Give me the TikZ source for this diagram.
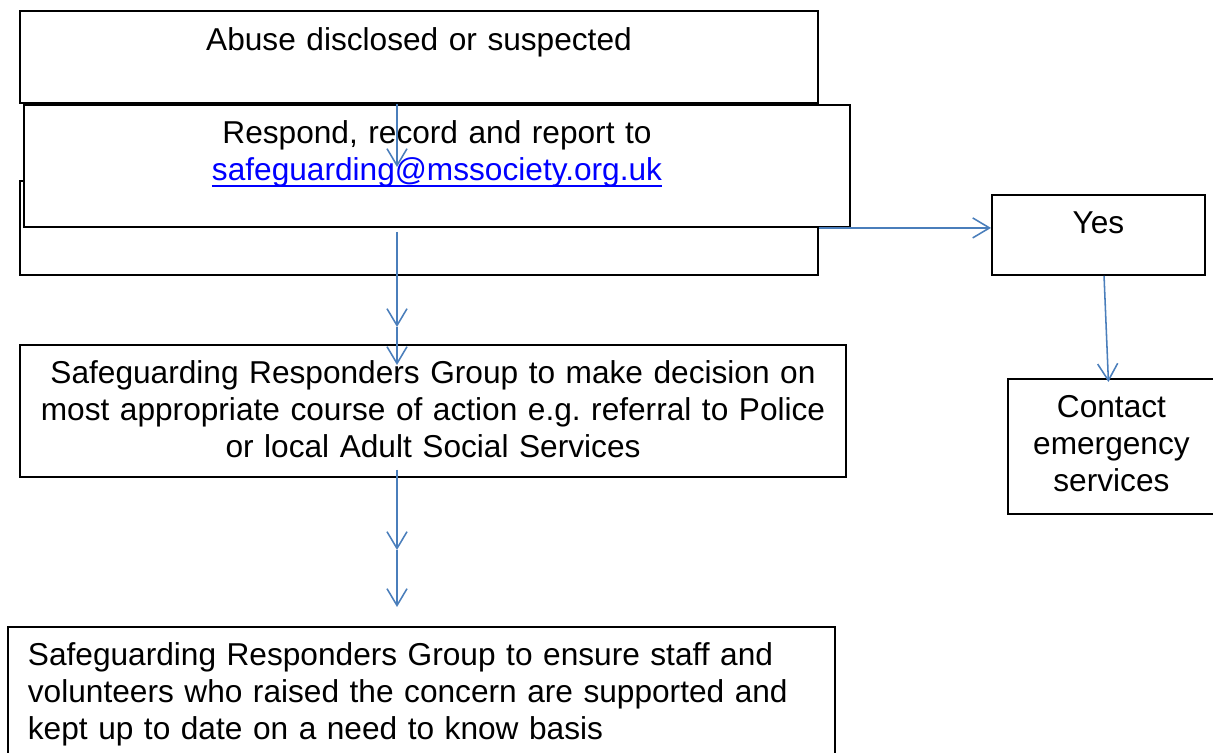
\documentclass[tikz,border=0pt]{standalone}
\usepackage{fontspec}
\setmainfont{Liberation Sans}
\usepackage{tikz}
\usetikzlibrary{arrows.meta}
\definecolor{flowblue}{HTML}{4A7EBB}
\definecolor{linkblue}{HTML}{0000FF}
\frenchspacing
\newsavebox{\mailbox}
\newcommand{\emaillink}[1]{\leavevmode{\color{linkblue}\sbox{\mailbox}{#1}\rlap{\rule[-0.18em]{\wd\mailbox}{0.065em}}\usebox{\mailbox}}}

\begin{document}
\begin{tikzpicture}[x=0.025cm,y=-0.025cm,
    box/.style={draw,line width=1.3pt,fill=white,inner sep=0pt,align=center,
        font=\fontsize{22.5pt}{26.3pt}\selectfont,anchor=north west},
    flow/.style={flowblue,line width=1.1pt,-{Straight Barb[length=0.42cm,width=0.5cm]}}]
    \useasboundingbox (0,0) rectangle (1213,753);
    \clip (0,0) rectangle (1213,753);
    \node[box,text width=19.95cm,text height=1cm,text depth=1.3cm] at(19,10)(abuse){Abuse disclosed or suspected};
    \node[box,minimum width=19.95cm,minimum height=2.35cm] at(19,180)(blank){};
    \node[box,text width=20.65cm,text height=0.975cm,text depth=2.075cm] at(23,104)(report){Respond, record and report to\\\emaillink{safeguarding@mssociety.org.uk}};
    \node[box,text width=20.65cm,text height=0.975cm,text depth=2.325cm] at(19,344)(decide){Safeguarding Responders Group to make decision on\\most appropriate course of action e.g. referral to Police\\or local Adult Social Services};
    \node[box,align=left,inner xsep=0.5cm,text width=19.675cm,text height=0.975cm,text depth=2.875cm] at(7,626)(support){Safeguarding Responders Group to ensure staff and\\volunteers who raised the concern are supported and\\kept up to date on a need to know basis};
    \node[box,text width=5.325cm,text height=0.975cm,text depth=1.025cm] at(991,194)(yes){Yes};
    \node[box,text width=5.175cm,text height=0.975cm,text depth=2.4cm] at(1007,378)(contact){Contact\\emergency\\services};
    \coordinate (c1) at(397,167);
    \coordinate (c2) at(397,232);
    \coordinate (c3) at(397,327);
    \coordinate (c4) at(397,365);
    \coordinate (c5) at(397,470);
    \coordinate (c6) at(397,550);
    \coordinate (c7) at(397,607);
    \draw[flow] (c1 |- abuse.south) -- (c1);
    \draw[flow] (c2) -- (c3);
    \draw[flow] (c3) -- (c4);
    \draw[flow] (c5) -- (c6);
    \draw[flow] (c6) -- (c7);
    \draw[flow] (blank.east) -- (blank.east -| yes.west);
    \draw[flow] ([xshift=0.14cm]yes.south) -- ([xshift=-0.075cm,yshift=-0.1cm]contact.north);
\end{tikzpicture}
\end{document}
